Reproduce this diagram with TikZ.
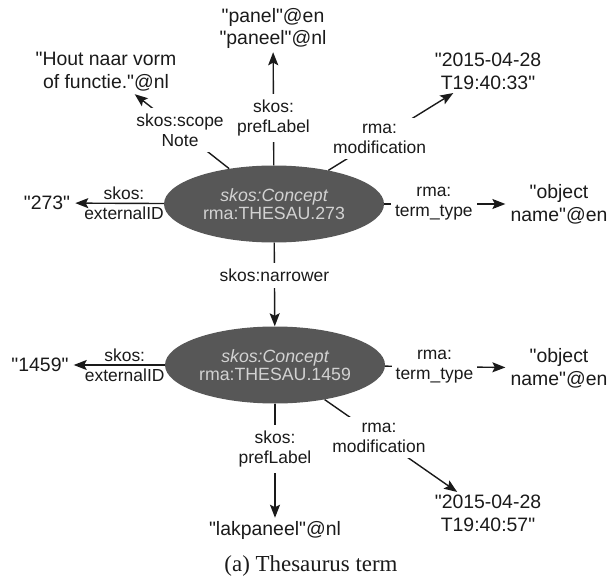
\documentclass[tikz,border=0pt]{standalone}
\usepackage{fontspec}
\newfontfamily\lsans{Liberation Sans}
\newfontfamily\capfont{Liberation Serif}
\usetikzlibrary{shapes.geometric,arrows.meta}
\definecolor{ellfill}{HTML}{575757}
\definecolor{elltext}{HTML}{D2D2D2}
\definecolor{ink}{HTML}{1A1A1A}
\begin{document}
\begin{tikzpicture}[x=1bp,y=-1bp,
  concept/.style={ellipse, fill=ellfill, minimum width=220bp, minimum height=77bp, inner sep=0pt, text=elltext, align=center, font=\lsans\fontsize{17.8}{18.5}\selectfont},
  lit/.style={align=center, inner xsep=5bp, inner ysep=3bp, text=ink, font=\lsans\fontsize{19.5}{23}\selectfont},
  lbl/.style={align=center, fill=white, inner xsep=4bp, inner ysep=6bp, text=ink, font=\lsans\fontsize{17.5}{20}\selectfont},
  lbln/.style={lbl, fill=none},
  arr/.style={draw=ink, line width=1.4bp, -{Stealth[length=13bp,width=10bp,inset=2.5bp]}},
]
\useasboundingbox (0,0) rectangle (612,577);
\node[concept] (c1) at (274,204) {{\itshape skos:Concept}\\rma:THESAU.273};
\node[concept] (c2) at (275,365) {{\itshape skos:Concept}\\rma:THESAU.1459};
\node[lit] (panel) at (273,28.5) {"panel"@en\\"paneel"@nl};
\node[lit] (hout) at (106,71.5) {"Hout naar vorm\\of functie."@nl};
\node[lit] (d1) at (488,71.5) {"2015-04-28\\T19:40:33"};
\node[lit] (ext1) at (47,203) {"273"};
\node[lit] (obj1) at (559,204) {"object\\name"@en};
\node[lit] (ext2) at (40,365) {"1459"};
\node[lit] (obj2) at (559,368) {"object\\name"@en};
\node[lit] (d2) at (488,513.5) {"2015-04-28\\T19:40:57"};
\node[lit] (lak) at (275,530) {"lakpaneel"@nl};
\node[font=\capfont\fontsize{23}{26}\selectfont, text=ink] (cap) at (311,566) {(a) Thesaurus term};
\draw[arr] (c1) -- node[lbl,pos=0.42]{skos:\\prefLabel} (panel);
\draw[arr] (c1) -- node[lbl,pos=0.52]{skos:scope\\Note} (hout);
\draw[arr] (c1) -- node[lbl,pos=0.41]{rma:\\modification} (d1);
\draw[arr] (c1) -- node[lbln,pos=0.45]{skos:\\externalID} (ext1);
\draw[arr] (c1) -- node[lbl,pos=0.41]{rma:\\term\_type} (obj1);
\draw[arr] (c1) -- node[lbl,pos=0.39]{skos:narrower} (c2);
\draw[arr] (c2) -- node[lbln,pos=0.44]{skos:\\externalID} (ext2);
\draw[arr] (c2) -- node[lbl,pos=0.41]{rma:\\term\_type} (obj2);
\draw[arr] (c2) -- node[lbl,pos=0.41]{rma:\\modification} (d2);
\draw[arr] (c2) -- node[lbl,pos=0.40]{skos:\\prefLabel} (lak);
\end{tikzpicture}
\end{document}
